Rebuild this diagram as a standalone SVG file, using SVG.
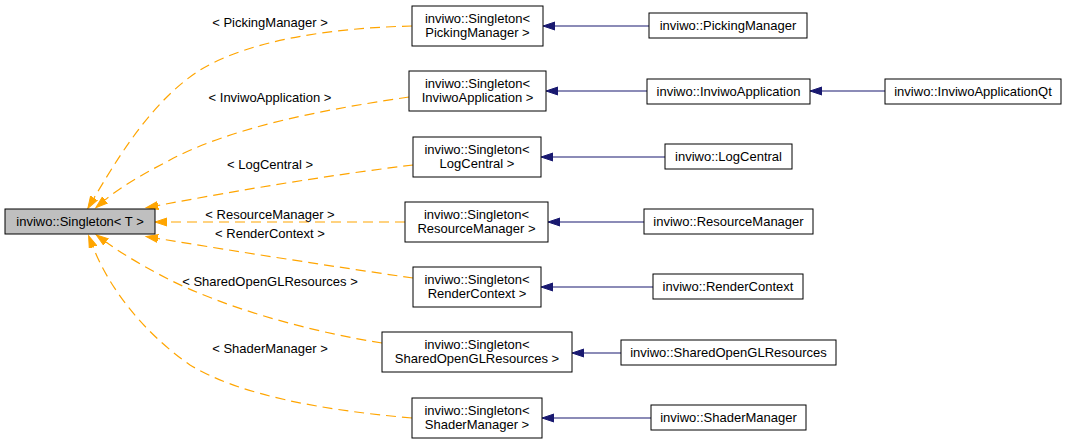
<svg xmlns="http://www.w3.org/2000/svg" width="1067" height="444" viewBox="0 0 1067 444">
<style>
text{font-family:"Liberation Sans",Arial,sans-serif;font-size:13px;fill:#000;text-anchor:middle}
.box{fill:#fff;stroke:#000;stroke-width:1}
.base{fill:#bfbfbf;stroke:#000;stroke-width:1}
.inh{fill:none;stroke:#191970;stroke-width:1.2}
.tpl{fill:none;stroke:#ffa500;stroke-width:1.2;stroke-dasharray:10,6}
</style>
<defs>
<marker id="ab" markerUnits="userSpaceOnUse" markerWidth="14" markerHeight="11" refX="0" refY="4.5" orient="auto">
<path d="M0,0.5 L12,4.5 L0,8.5 z" fill="#191970" stroke="#191970" stroke-width="1"/>
</marker>
<marker id="ao" markerUnits="userSpaceOnUse" markerWidth="14" markerHeight="11" refX="0" refY="4.5" orient="auto">
<path d="M0,0.5 L12,4.5 L0,8.5 z" fill="#ffa500" stroke="#ffa500" stroke-width="1"/>
</marker>
</defs>
<rect width="1067" height="444" fill="#fff"/>
<g id="edges">
<path class="tpl" d="M412,26 C330,28 250,40 200,70 C150,102 115,163 94,198" marker-end="url(#ao)"/>
<path class="tpl" d="M409,97 C320,110 230,128 170,160 C135,178 117,190 105,200" marker-end="url(#ao)"/>
<path class="tpl" d="M413,165 C330,175 240,190 158,205.5" marker-end="url(#ao)"/>
<path class="tpl" d="M405,222 L167,222" marker-end="url(#ao)"/>
<path class="tpl" d="M413,278 C330,266 240,252 158,238.5" marker-end="url(#ao)"/>
<path class="tpl" d="M382,343 C300,330 220,305 170,280 C135,262 117,250 106,242" marker-end="url(#ao)"/>
<path class="tpl" d="M412,418 C320,410 240,395 190,365 C140,330 108,285 93,247" marker-end="url(#ao)"/>
<path class="inh" d="M649,26 L555,26" marker-end="url(#ab)"/>
<path class="inh" d="M647,91 L558,91" marker-end="url(#ab)"/>
<path class="inh" d="M885,91 L822,91" marker-end="url(#ab)"/>
<path class="inh" d="M665,157 L553,157" marker-end="url(#ab)"/>
<path class="inh" d="M644,222 L560,222" marker-end="url(#ab)"/>
<path class="inh" d="M653,287 L553,287" marker-end="url(#ab)"/>
<path class="inh" d="M621,353 L584,353" marker-end="url(#ab)"/>
<path class="inh" d="M651,418 L554,418" marker-end="url(#ab)"/>
<text x="270" y="27">&lt; PickingManager &gt;</text>
<text x="270" y="102">&lt; InviwoApplication &gt;</text>
<text x="270" y="168.5">&lt; LogCentral &gt;</text>
<text x="270" y="218.5">&lt; ResourceManager &gt;</text>
<text x="270" y="237.5">&lt; RenderContext &gt;</text>
<text x="270" y="286">&lt; SharedOpenGLResources &gt;</text>
<text x="270" y="353">&lt; ShaderManager &gt;</text>
</g>
<g id="singleton_T">
<rect class="base" x="5" y="209" width="150" height="25"/>
<text x="80" y="226">inviwo::Singleton&lt; T &gt;</text>
</g>
<g id="singleton_picking">
<rect class="box" x="412" y="6" width="131" height="40"/>
<text x="477.5" y="22.5">inviwo::Singleton&lt;</text>
<text x="477.5" y="36.5">PickingManager &gt;</text>
</g>
<g id="picking">
<rect class="box" x="649" y="13" width="158" height="25"/>
<text x="728" y="30">inviwo::PickingManager</text>
</g>
<g id="singleton_app">
<rect class="box" x="409" y="71" width="137" height="40"/>
<text x="477.5" y="87.5">inviwo::Singleton&lt;</text>
<text x="477.5" y="101.5">InviwoApplication &gt;</text>
</g>
<g id="app">
<rect class="box" x="647" y="79" width="163" height="25"/>
<text x="728.5" y="96">inviwo::InviwoApplication</text>
</g>
<g id="appqt">
<rect class="box" x="885" y="79" width="176" height="25"/>
<text x="973" y="96">inviwo::InviwoApplicationQt</text>
</g>
<g id="singleton_log">
<rect class="box" x="413" y="137" width="128" height="40"/>
<text x="477" y="153.5">inviwo::Singleton&lt;</text>
<text x="477" y="167.5">LogCentral &gt;</text>
</g>
<g id="log">
<rect class="box" x="665" y="144" width="127" height="25"/>
<text x="728.5" y="161">inviwo::LogCentral</text>
</g>
<g id="singleton_resource">
<rect class="box" x="405" y="202" width="143" height="40"/>
<text x="476.5" y="218.5">inviwo::Singleton&lt;</text>
<text x="476.5" y="232.5">ResourceManager &gt;</text>
</g>
<g id="resource">
<rect class="box" x="644" y="209" width="169" height="25"/>
<text x="728.5" y="226">inviwo::ResourceManager</text>
</g>
<g id="singleton_render">
<rect class="box" x="413" y="267" width="128" height="40"/>
<text x="477" y="283.5">inviwo::Singleton&lt;</text>
<text x="477" y="297.5">RenderContext &gt;</text>
</g>
<g id="render">
<rect class="box" x="653" y="274" width="150" height="25"/>
<text x="728" y="291">inviwo::RenderContext</text>
</g>
<g id="singleton_shared">
<rect class="box" x="382" y="332" width="190" height="40"/>
<text x="477" y="348.5">inviwo::Singleton&lt;</text>
<text x="477" y="362.5">SharedOpenGLResources &gt;</text>
</g>
<g id="shared">
<rect class="box" x="621" y="340" width="215" height="25"/>
<text x="728.5" y="357">inviwo::SharedOpenGLResources</text>
</g>
<g id="singleton_shader">
<rect class="box" x="412" y="398" width="130" height="40"/>
<text x="477" y="414.5">inviwo::Singleton&lt;</text>
<text x="477" y="428.5">ShaderManager &gt;</text>
</g>
<g id="shader">
<rect class="box" x="651" y="405" width="155" height="25"/>
<text x="728.5" y="422">inviwo::ShaderManager</text>
</g>
</svg>
